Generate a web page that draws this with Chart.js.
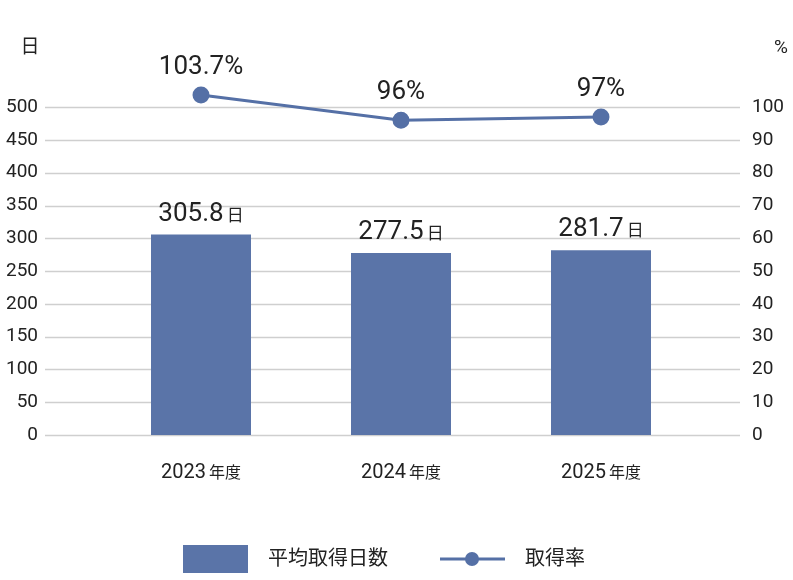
<!DOCTYPE html>
<html><head><meta charset="utf-8">
<script src="https://cdn.jsdelivr.net/npm/chart.js@4"></script>
<style>body{margin:0;background:#fff}#w{width:793px;height:580px}</style>
</head><body><div id="w"><canvas id="c"></canvas></div>
<script>
const categories = ['2023', '2024', '2025'];
const days = [305.8, 277.5, 281.7];
const rate = [103.7, 96, 97];
const dayTicks = [0,50,100,150,200,250,300,350,400,450,500];
const rateTicks = [0,10,20,30,40,50,60,70,80,90,100];
const FONT = "'Roboto','Noto Sans CJK JP',sans-serif";
const TXT = '#222';
const BAR = '#5a74a8', LINE = '#5570a6';

const grid = {
  id: 'grid',
  beforeDatasetsDraw(chart) {
    const ctx = chart.ctx, y = chart.scales.y;
    ctx.save(); ctx.strokeStyle = '#cfcfcf'; ctx.lineWidth = 1.5;
    dayTicks.forEach(v => { const py = Math.round(y.getPixelForValue(v)) + 0.5;
      ctx.beginPath(); ctx.moveTo(45, py); ctx.lineTo(740, py); ctx.stroke(); });
    ctx.restore();
  }
};

const overlay = {
  id: 'overlay',
  afterDraw(chart) {
    const ctx = chart.ctx, x = chart.scales.x, y = chart.scales.y, y2 = chart.scales.y2;
    ctx.save();
    ctx.fillStyle = TXT;
    ctx.textBaseline = 'alphabetic';
    function two(big, small, cx, by, bs, ss) {
      ctx.font = bs + 'px ' + FONT; const w1 = ctx.measureText(big).width;
      ctx.font = ss + 'px ' + FONT; const w2 = ctx.measureText(small).width;
      let sx = cx - (w1 + w2 + 3) / 2;
      ctx.textAlign = 'left';
      ctx.font = bs + 'px ' + FONT; ctx.fillText(big, sx, by);
      ctx.font = ss + 'px ' + FONT; ctx.fillText(small, sx + w1 + 3, by);
    }
    categories.forEach((c, i) => {
      const cx = x.getPixelForValue(i);
      two(String(days[i]), '日', cx, y.getPixelForValue(days[i]) - 14, 26, 17);
      two(c, '年度', cx, 478, 20, 16);
      ctx.font = '26px ' + FONT; ctx.textAlign = 'center';
      ctx.fillText(rate[i] + '%', cx, y2.getPixelForValue(rate[i]) - 21);
    });
    ctx.font = '19px ' + FONT;
    ctx.textAlign = 'center';
    ctx.fillText('日', 30, 53);
    ctx.fillText('%', 781, 53);
    ctx.fillStyle = BAR; ctx.fillRect(183, 545, 65, 28);
    ctx.fillStyle = TXT; ctx.textAlign = 'left'; ctx.font = '20px ' + FONT; ctx.textBaseline = 'middle';
    ctx.fillText('平均取得日数', 268, 560);
    ctx.strokeStyle = LINE; ctx.lineWidth = 3;
    ctx.beginPath(); ctx.moveTo(440, 559); ctx.lineTo(505, 559); ctx.stroke();
    ctx.fillStyle = LINE; ctx.beginPath(); ctx.arc(472, 559, 7, 0, Math.PI * 2); ctx.fill();
    ctx.fillStyle = TXT; ctx.fillText('取得率', 525, 560);
    ctx.restore();
  }
};

new Chart(document.getElementById('c'), {
  data: {
    labels: categories,
    datasets: [
      { type: 'line', label: '取得率', data: rate, yAxisID: 'y2',
        borderColor: LINE, backgroundColor: LINE, borderWidth: 3, pointRadius: 7, pointHoverRadius: 7, order: 0 },
      { type: 'bar', label: '平均取得日数', data: days, yAxisID: 'y',
        backgroundColor: BAR, barPercentage: 0.5, categoryPercentage: 1, order: 1 }
    ]
  },
  options: {
    responsive: true, maintainAspectRatio: false, animation: false,
    layout: { padding: { top: 39, left: 0, right: 0, bottom: 0 } },
    plugins: { legend: { display: false }, tooltip: { enabled: false } },
    scales: {
      x: { type: 'category', offset: true, ticks: { display: false }, grid: { display: false },
           border: { display: false }, afterFit(s) { s.height = 145; } },
      y: { position: 'left', min: 0, max: 550, afterBuildTicks(s) { s.ticks = dayTicks.map(v => ({value: v})); },
           ticks: { color: TXT, font: { family: FONT, size: 19 }, padding: 63 },
           grid: { display: false, drawTicks: false },
           border: { display: false }, afterFit(s) { s.width = 101; } },
      y2: { position: 'right', min: 0, max: 110, afterBuildTicks(s) { s.ticks = rateTicks.map(v => ({value: v})); },
            ticks: { color: TXT, font: { family: FONT, size: 19 }, padding: 51 },
            grid: { display: false, drawTicks: false }, border: { display: false }, afterFit(s) { s.width = 92; } }
    }
  },
  plugins: [grid, overlay]
});
</script></body></html>
